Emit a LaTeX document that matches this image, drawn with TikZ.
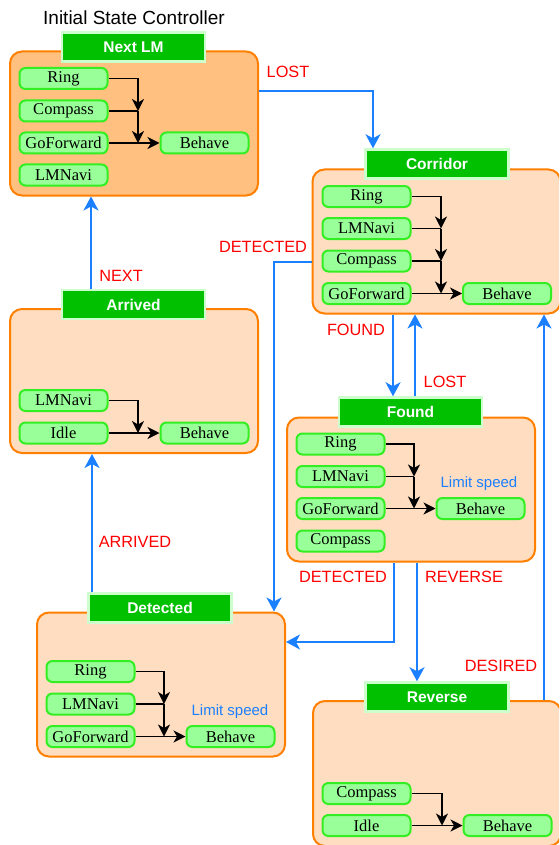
\documentclass[tikz,border=0pt]{standalone}
\usepackage{fontspec}
\setmainfont{Liberation Sans}
\newfontfamily\innerserif{Liberation Serif}
\usetikzlibrary{arrows.meta}
\definecolor{orangeb}{HTML}{FF8000}
\definecolor{peach}{HTML}{FFDDC0}
\definecolor{peachdark}{HTML}{FFC080}
\definecolor{titlegreen}{HTML}{00C000}
\definecolor{titleborder}{HTML}{CCFFCC}
\definecolor{innerfill}{HTML}{99FF99}
\definecolor{innerborder}{HTML}{33EE22}
\definecolor{linkblue}{HTML}{1A80FF}
\definecolor{labelred}{HTML}{FF0000}
\tikzset{
  statebox/.style={draw=orangeb, line width=2pt, fill=peach, rounded corners=12pt,
    minimum width=248pt, minimum height=144pt, inner sep=0pt},
  titlebox/.style={draw=titleborder, line width=2.5pt, fill=titlegreen,
    minimum width=143pt, minimum height=29pt, inner sep=0pt,
    text=white, font=\fontsize{15.5}{18}\selectfont\bfseries},
  part/.style={draw=innerborder, line width=2pt, fill=innerfill, rounded corners=6pt,
    minimum width=88pt, minimum height=21pt, inner sep=0pt,
    font=\innerserif\fontsize{16.5}{18}\selectfont},
  blk/.style={draw=black, line width=1.4pt},
  blkarrow/.style={blk, -{Stealth[length=12pt,width=12pt,inset=3.5pt]}},
  link/.style={draw=linkblue, line width=2pt, -{Stealth[length=14pt,width=15pt,inset=4pt]}},
  tlabel/.style={text=labelred, font=\fontsize{16.3}{18}\selectfont, inner sep=0pt},
  note/.style={text=linkblue, font=\fontsize{15}{18}\selectfont, inner sep=0pt},
}
\begin{document}
\begin{tikzpicture}[x=1pt,y=-1pt]
\useasboundingbox (0,0) rectangle (559,845);
\clip (0,0) rectangle (559,845);

\node[font=\fontsize{19}{21}\selectfont, inner sep=0pt] (caption) at (134,18) {Initial State Controller};

% ---------- state boxes ----------
\node[statebox, fill=peachdark] (nextlm) at (134,123.5) {};
\node[statebox] (corridor) at (436.5,241.5) {};
\node[statebox] (arrived) at (134,381) {};
\node[statebox] (found) at (411,489.5) {};
\node[statebox] (detected) at (161,684.5) {};
\node[statebox, minimum height=145pt] (reverse) at (437,773.5) {};

% ---------- titles ----------
\node[titlebox] (nextlmT) at (133.5,47) {Next LM};
\node[titlebox] (corridorT) at (437,164) {Corridor};
\node[titlebox] (arrivedT) at (133.5,304.5) {Arrived};
\node[titlebox] (foundT) at (410.5,412) {Found};
\node[titlebox] (detectedT) at (160,608) {Detected};
\node[titlebox] (reverseT) at (437,697) {Reverse};

% ---------- Next LM contents ----------
\node[part] (aRing) at (63.5,78.5) {Ring};
\node[part] (aComp) at (63.5,111) {Compass};
\node[part] (aGo) at (63.5,143) {GoForward};
\node[part] (aLM) at (63.5,175) {LMNavi};
\node[part] (aBeh) at (204.5,143) {Behave};
\coordinate (aJ1) at (aComp.east -| 138,0);
\coordinate (aJ2) at (aGo.east -| 138,0);
\draw[blkarrow] (aRing.east) -| (aJ1);
\draw[blk] (aComp.east) -- (aJ1);
\draw[blkarrow] (aJ1) -- (aJ2);
\draw[blkarrow] (aGo.east) -- (aBeh.west);

% ---------- Corridor contents ----------
\node[part] (bRing) at (366.5,196.5) {Ring};
\node[part] (bLM) at (366.5,228.5) {LMNavi};
\node[part] (bComp) at (366.5,261) {Compass};
\node[part] (bGo) at (366.5,293.5) {GoForward};
\node[part] (bBeh) at (507,293.5) {Behave};
\coordinate (bJ1) at (bLM.east -| 441,0);
\coordinate (bJ2) at (bComp.east -| 441,0);
\coordinate (bJ3) at (bGo.east -| 441,0);
\draw[blkarrow] (bRing.east) -| (bJ1);
\draw[blk] (bLM.east) -- (bJ1);
\draw[blkarrow] (bJ1) -- (bJ2);
\draw[blk] (bComp.east) -- (bJ2);
\draw[blkarrow] (bJ2) -- (bJ3);
\draw[blkarrow] (bGo.east) -- (bBeh.west);

% ---------- Arrived contents ----------
\node[part] (cLM) at (63.5,400.5) {LMNavi};
\node[part] (cIdle) at (63.5,433) {Idle};
\node[part] (cBeh) at (204.5,433) {Behave};
\coordinate (cJ1) at (cIdle.east -| 138,0);
\draw[blkarrow] (cLM.east) -| (cJ1);
\draw[blkarrow] (cIdle.east) -- (cBeh.west);

% ---------- Found contents ----------
\node[part] (dRing) at (340.5,444) {Ring};
\node[part] (dLM) at (340.5,476.5) {LMNavi};
\node[part] (dGo) at (340.5,508.5) {GoForward};
\node[part] (dComp) at (340.5,541) {Compass};
\node[part] (dBeh) at (480.5,508.5) {Behave};
\node[note] (dNote) at (479,484) {Limit speed};
\coordinate (dJ1) at (dLM.east -| 414,0);
\coordinate (dJ2) at (dGo.east -| 414,0);
\draw[blkarrow] (dRing.east) -| (dJ1);
\draw[blk] (dLM.east) -- (dJ1);
\draw[blkarrow] (dJ1) -- (dJ2);
\draw[blkarrow] (dGo.east) -- (dBeh.west);

% ---------- Detected contents ----------
\node[part] (eRing) at (90.5,671.5) {Ring};
\node[part] (eLM) at (90.5,704) {LMNavi};
\node[part] (eGo) at (90.5,736.5) {GoForward};
\node[part] (eBeh) at (230.5,736.5) {Behave};
\node[note] (eNote) at (230,712) {Limit speed};
\coordinate (eJ1) at (eLM.east -| 164,0);
\coordinate (eJ2) at (eGo.east -| 164,0);
\draw[blkarrow] (eRing.east) -| (eJ1);
\draw[blk] (eLM.east) -- (eJ1);
\draw[blkarrow] (eJ1) -- (eJ2);
\draw[blkarrow] (eGo.east) -- (eBeh.west);

% ---------- Reverse contents ----------
\node[part] (fComp) at (366.5,793.5) {Compass};
\node[part] (fIdle) at (366.5,825.5) {Idle};
\node[part] (fBeh) at (507.5,825.5) {Behave};
\coordinate (fJ1) at (fIdle.east -| 442,0);
\draw[blkarrow] (fComp.east) -| (fJ1);
\draw[blkarrow] (fIdle.east) -- (fBeh.west);

% ---------- transitions ----------
\draw[link] (nextlm.east |- 0,91) -| (corridorT.north -| 373,0);
\node[tlabel] (lLost1) at (288,72) {LOST};

\draw[link] (corridor.west |- 0,262) -| (detected.north -| 274,0);
\node[tlabel] (lDet1) at (263,247) {DETECTED};

\draw[link] (corridor.south -| 393,0) -- (foundT.north -| 393,0);
\node[tlabel] (lFound) at (356,330) {FOUND};

\draw[link] (foundT.north -| 415,0) -- (corridor.south -| 415,0);
\node[tlabel] (lLost2) at (445,382) {LOST};

\draw[link] (reverse.north -| 544,0) -- (corridor.south -| 544,0);
\node[tlabel] (lDes) at (501,666) {DESIRED};

\draw[link] (found.south -| 394,0) |- (detected.east |- 0,642);
\node[tlabel] (lDet2) at (343,577) {DETECTED};

\draw[link] (found.south -| 417,0) -- (reverseT.north -| 417,0);
\node[tlabel] (lRev) at (464,577) {REVERSE};

\draw[link] (detectedT.north -| 92,0) -- (arrived.south -| 92,0);
\node[tlabel] (lArr) at (135,542) {ARRIVED};

\draw[link] (arrivedT.north -| 91,0) -- (nextlm.south -| 91,0);
\node[tlabel] (lNext) at (121,276) {NEXT};
\end{tikzpicture}
\end{document}
